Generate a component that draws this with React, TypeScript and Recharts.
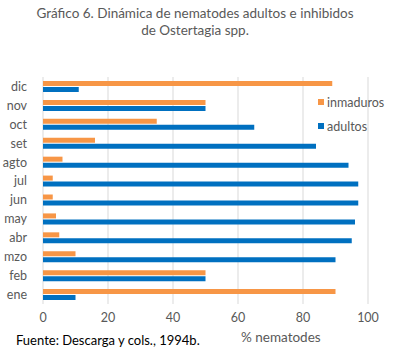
import { BarChart, Bar, XAxis, YAxis, CartesianGrid } from 'recharts';

const months = ['ene', 'feb', 'mzo', 'abr', 'may', 'jun', 'jul', 'agto', 'set', 'oct', 'nov', 'dic'];
const inmaduros = [90, 50, 10, 5, 4, 3, 3, 6, 16, 35, 50, 89];
const adultos = [10, 50, 90, 95, 96, 97, 97, 94, 84, 65, 50, 11];
const xTicks = [0, 20, 40, 60, 80, 100];

const data = months.map((m, i) => ({ mes: m, inmaduros: inmaduros[i], adultos: adultos[i] }));

const FONT = 'Lato, "Open Sans", sans-serif';
const GREY = '#595959';
const ORANGE = '#F79646';
const BLUE = '#0070C0';

// leyenda a mano, fuera del layout de recharts
function LegendBox() {
  const items = [
    { name: 'inmaduros', color: ORANGE },
    { name: 'adultos', color: BLUE },
  ];
  return (
    <div style={{ position: 'absolute', left: 318, top: 90, fontSize: 12.5, color: GREY }}>
      {items.map((it) => (
        <div key={it.name} style={{ display: 'flex', alignItems: 'center', height: 24 }}>
          <span style={{ width: 6, height: 6, background: it.color, marginRight: 3, display: 'inline-block' }} />
          {it.name}
        </div>
      ))}
    </div>
  );
}

export default function App() {
  return (
    <div style={{ position: 'absolute', left: 0, top: 0, width: 395, height: 354, background: '#fff', fontFamily: FONT }}>
      <div style={{ position: 'absolute', top: 5, left: 0, width: 390, textAlign: 'center', fontSize: 13.5, lineHeight: '17px', color: GREY }}>
        Gráfico 6. Dinámica de nematodes adultos e inhibidos
        <br />
        de Ostertagia spp.
      </div>
      <BarChart
        width={395}
        height={354}
        data={data}
        layout="vertical"
        margin={{ top: 77, right: 27, bottom: 20, left: 0 }}
        barSize={5}
        barGap={1}
      >
        <CartesianGrid stroke="#D9D9D9" horizontal={false} />
        <XAxis
          type="number"
          domain={[0, 100]}
          ticks={xTicks}
          height={30}
          axisLine={false}
          tickLine={false}
          tick={{ fill: GREY, fontSize: 12.5, fontFamily: FONT }}
          tickMargin={3}
        />
        <YAxis
          type="category"
          dataKey="mes"
          reversed
          interval={0}
          width={43}
          axisLine={false}
          tickLine={false}
          tick={{ fill: GREY, fontSize: 12.5, fontFamily: FONT }}
          tickMargin={10}
        />
        <Bar dataKey="inmaduros" fill={ORANGE} isAnimationActive={false} />
        <Bar dataKey="adultos" fill={BLUE} isAnimationActive={false} />
      </BarChart>
      <LegendBox />
      <div style={{ position: 'absolute', left: 241, top: 329, fontSize: 13.5, color: GREY }}>% nematodes</div>
      <div style={{ position: 'absolute', left: 16, top: 332, fontSize: 13, color: '#000' }}>
        Fuente: Descarga y cols., 1994b.
      </div>
    </div>
  );
}
